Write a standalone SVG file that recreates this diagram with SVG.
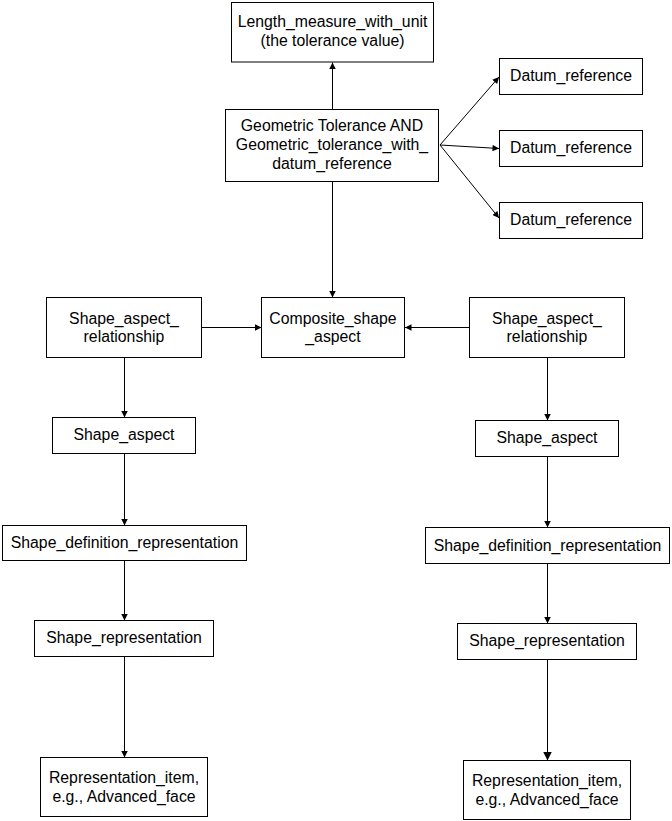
<svg xmlns="http://www.w3.org/2000/svg" width="672" height="821" viewBox="0 0 672 821">
<style>
.box rect{fill:#fff;stroke:#000;stroke-width:1}
.box text{font-family:"Liberation Sans",Arial,sans-serif;font-size:15.8px;fill:#000;text-anchor:middle}
#connectors line{stroke:#000;stroke-width:1;fill:none}
.s{marker-end:url(#ah)}
.b{marker-end:url(#ahb)}
</style>
<defs>
<marker id="ah" viewBox="0 0 10 10" refX="10" refY="5" markerWidth="7" markerHeight="6.5" orient="auto" markerUnits="userSpaceOnUse"><path d="M0,0 L10,5 L0,10 Z" fill="#000"/></marker>
<marker id="ahb" viewBox="0 0 10 10" refX="10" refY="5" markerWidth="9" markerHeight="9" orient="auto" markerUnits="userSpaceOnUse"><path d="M0,0 L10,5 L0,10 Z" fill="#000"/></marker>
</defs>
<rect width="672" height="821" fill="#fff"/>
<g id="connectors">
<line class="s" x1="332.5" y1="109.5" x2="332.5" y2="62.5"/>
<line class="s" x1="332.5" y1="181.5" x2="332.5" y2="297.5"/>
<line class="s" x1="440" y1="145" x2="499" y2="77"/>
<line class="s" x1="440" y1="145" x2="499" y2="148.5"/>
<line class="s" x1="440" y1="145" x2="499" y2="218"/>
<line class="s" x1="202" y1="327.5" x2="261.5" y2="327.5"/>
<line class="s" x1="469.5" y1="327.5" x2="405" y2="327.5"/>
<line class="s" x1="124.5" y1="357.5" x2="124.5" y2="417.5"/>
<line class="s" x1="124.5" y1="453.5" x2="124.5" y2="525.5"/>
<line class="s" x1="124.5" y1="560.5" x2="124.5" y2="620.5"/>
<line class="s" x1="124.5" y1="656.5" x2="124.5" y2="757.5"/>
<line class="s" x1="547.5" y1="357.5" x2="547.5" y2="420.5"/>
<line class="s" x1="547.5" y1="456.5" x2="547.5" y2="527.5"/>
<line class="s" x1="547.5" y1="563.5" x2="547.5" y2="623.5"/>
<line class="b" x1="547.5" y1="659.5" x2="547.5" y2="760.5"/>
</g>
<g id="length_measure" class="box"><rect x="231.5" y="2.5" width="202" height="59.5"/><text x="332.5" y="27">Length_measure_with_unit</text><text x="332.5" y="46">(the tolerance value)</text></g>
<g id="geometric_tolerance" class="box"><rect x="225.5" y="109.5" width="213" height="72"/><text x="332" y="131">Geometric Tolerance AND</text><text x="332" y="150">Geometric_tolerance_with_</text><text x="332" y="168.5">datum_reference</text></g>
<g id="datum1" class="box"><rect x="499.5" y="58.5" width="143" height="36"/><text x="571" y="81">Datum_reference</text></g>
<g id="datum2" class="box"><rect x="499.5" y="130.5" width="143" height="36"/><text x="571" y="153">Datum_reference</text></g>
<g id="datum3" class="box"><rect x="499.5" y="202.5" width="143" height="36"/><text x="571" y="225">Datum_reference</text></g>
<g id="sar_left" class="box"><rect x="46.5" y="297.5" width="155" height="60"/><text x="124" y="323.5">Shape_aspect_</text><text x="124" y="342">relationship</text></g>
<g id="composite" class="box"><rect x="261.5" y="297.5" width="143" height="60"/><text x="333" y="323.5">Composite_shape</text><text x="333" y="342">_aspect</text></g>
<g id="sar_right" class="box"><rect x="469.5" y="297.5" width="155" height="60"/><text x="547" y="323.5">Shape_aspect_</text><text x="547" y="342">relationship</text></g>
<g id="sa_left" class="box"><rect x="52.5" y="417.5" width="143" height="36"/><text x="124" y="440">Shape_aspect</text></g>
<g id="sa_right" class="box"><rect x="475.5" y="420.5" width="143" height="36"/><text x="547" y="443">Shape_aspect</text></g>
<g id="sdr_left" class="box"><rect x="2.5" y="525.5" width="244" height="35"/><text x="124.5" y="548">Shape_definition_representation</text></g>
<g id="sdr_right" class="box"><rect x="425.5" y="527.5" width="244" height="36"/><text x="547.5" y="550.5">Shape_definition_representation</text></g>
<g id="sr_left" class="box"><rect x="34.5" y="620.5" width="179" height="36"/><text x="124" y="643">Shape_representation</text></g>
<g id="sr_right" class="box"><rect x="457.5" y="623.5" width="179" height="36"/><text x="547" y="646">Shape_representation</text></g>
<g id="ri_left" class="box"><rect x="40.5" y="757.5" width="167" height="59"/><text x="124" y="783">Representation_item,</text><text x="124" y="802">e.g., Advanced_face</text></g>
<g id="ri_right" class="box"><rect x="463.5" y="760.5" width="167" height="59"/><text x="547" y="786">Representation_item,</text><text x="547" y="805">e.g., Advanced_face</text></g>
</svg>
